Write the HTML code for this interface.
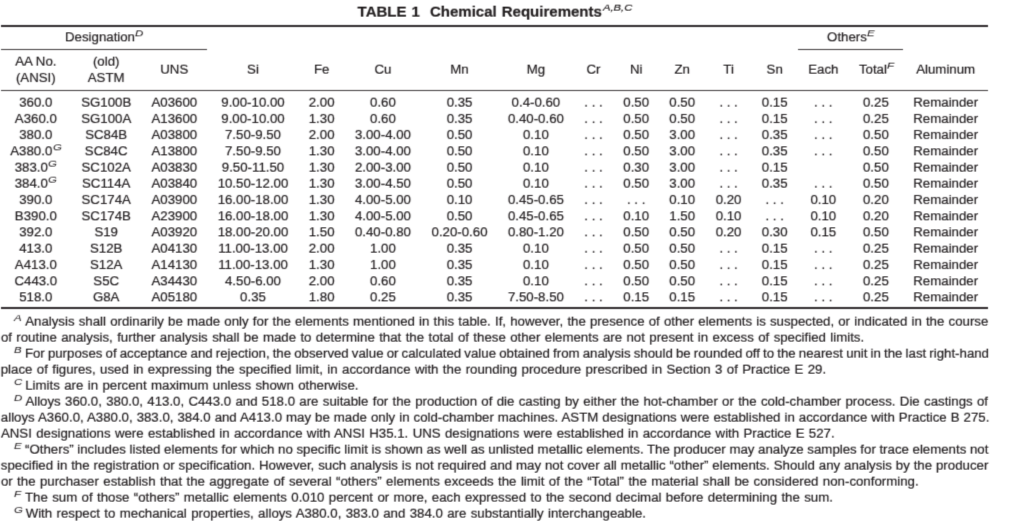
<!DOCTYPE html>
<html lang="en"><head><meta charset="utf-8"><title>TABLE 1 Chemical Requirements</title>
<style>
html,body{margin:0;padding:0;background:#fff}
body{width:1024px;height:527px;position:relative;overflow:hidden;font-family:"Liberation Sans",Arial,Helvetica,sans-serif;color:#242022;font-size:13.25px;line-height:16px}
.g{position:absolute;left:0;top:0;width:1024px;height:527px;-webkit-text-stroke:0.2px #242022}
#gn{filter:url(#fn)} #gu{filter:url(#fu)} #gd{filter:url(#fd)}
.c,.f,.t,.r,.fs{position:absolute;white-space:nowrap}
.c{text-align:center}
.s{font-size:9.4px;font-style:italic;position:relative;top:-5px;line-height:0;margin-left:0.4px;margin-right:1.4px;display:inline-block;transform:scaleX(1.22);transform-origin:0 50%;-webkit-text-stroke:0.05px #242022}
.t{font-weight:bold;font-size:15.0px;line-height:18px;color:#231f20}
.ts{font-weight:normal;font-style:italic;font-size:9.6px;position:relative;top:-6px;line-height:0;margin-left:1.2px;display:inline-block;transform:scaleX(1.17);transform-origin:0 50%;-webkit-text-stroke:0.2px #231f20}
.fs{font-size:9.4px;line-height:12px;font-style:italic;transform:scaleX(1.22);transform-origin:0 50%;-webkit-text-stroke:0.05px #242022}
</style></head>
<body>
<svg width="0" height="0" style="position:absolute"><filter id="fn" x="0" y="0" width="100%" height="100%" color-interpolation-filters="sRGB"><feConvolveMatrix order="3" kernelMatrix="0.0196 0.1008 0.0196 0.1008 0.5184 0.1008 0.0196 0.1008 0.0196" edgeMode="none" preserveAlpha="false"/></filter><filter id="fu" x="0" y="0" width="100%" height="100%" color-interpolation-filters="sRGB"><feConvolveMatrix order="3" kernelMatrix="0.0504 0.2592 0.0504 0.0896 0.4608 0.0896 0.0000 0.0000 0.0000" edgeMode="none" preserveAlpha="false"/></filter><filter id="fd" x="0" y="0" width="100%" height="100%" color-interpolation-filters="sRGB"><feConvolveMatrix order="3" kernelMatrix="0.0000 0.0000 0.0000 0.0896 0.4608 0.0896 0.0504 0.2592 0.0504" edgeMode="none" preserveAlpha="false"/></filter></svg>
<div class="g" id="gn">
<div class="r" style="left:1.00px;top:24.95px;width:987.40px;height:1.70px;background:#2e2a2c"></div>
<div class="r" style="left:1.00px;top:49.00px;width:206.30px;height:1.00px;background:#3e3a3c"></div>
<div class="r" style="left:797.50px;top:49.00px;width:105.50px;height:1.00px;background:#3e3a3c"></div>
<div class="r" style="left:1.00px;top:89.70px;width:987.40px;height:1.00px;background:#3e3a3c"></div>
<div class="r" style="left:1.00px;top:307.15px;width:987.40px;height:1.70px;background:#2e2a2c"></div>
<div class="c" style="left:-34.20px;top:70px;width:140px">(ANSI)</div>
<div class="c" style="left:36.20px;top:70px;width:140px">ASTM</div>
<div class="c" style="left:-34.20px;top:111px;width:140px">A360.0</div>
<div class="c" style="left:36.20px;top:111px;width:140px">SG100A</div>
<div class="c" style="left:104.30px;top:111px;width:140px">A13600</div>
<div class="c" style="left:183.00px;top:111px;width:140px">9.00-10.00</div>
<div class="c" style="left:251.65px;top:111px;width:140px">1.30</div>
<div class="c" style="left:312.95px;top:111px;width:140px">0.60</div>
<div class="c" style="left:389.55px;top:111px;width:140px">0.35</div>
<div class="c" style="left:465.90px;top:111px;width:140px">0.40-0.60</div>
<div class="c" style="left:523.50px;top:111px;width:140px">. . .</div>
<div class="c" style="left:566.20px;top:111px;width:140px">0.50</div>
<div class="c" style="left:612.20px;top:111px;width:140px">0.50</div>
<div class="c" style="left:658.60px;top:111px;width:140px">. . .</div>
<div class="c" style="left:704.70px;top:111px;width:140px">0.15</div>
<div class="c" style="left:753.30px;top:111px;width:140px">. . .</div>
<div class="c" style="left:805.90px;top:111px;width:140px">0.25</div>
<div class="c" style="left:875.70px;top:111px;width:140px">Remainder</div>
<div class="c" style="left:-34.20px;top:127px;width:140px">380.0</div>
<div class="c" style="left:36.20px;top:127px;width:140px">SC84B</div>
<div class="c" style="left:104.30px;top:127px;width:140px">A03800</div>
<div class="c" style="left:183.00px;top:127px;width:140px">7.50-9.50</div>
<div class="c" style="left:251.65px;top:127px;width:140px">2.00</div>
<div class="c" style="left:312.95px;top:127px;width:140px">3.00-4.00</div>
<div class="c" style="left:389.55px;top:127px;width:140px">0.50</div>
<div class="c" style="left:465.90px;top:127px;width:140px">0.10</div>
<div class="c" style="left:523.50px;top:127px;width:140px">. . .</div>
<div class="c" style="left:566.20px;top:127px;width:140px">0.50</div>
<div class="c" style="left:612.20px;top:127px;width:140px">3.00</div>
<div class="c" style="left:658.60px;top:127px;width:140px">. . .</div>
<div class="c" style="left:704.70px;top:127px;width:140px">0.35</div>
<div class="c" style="left:753.30px;top:127px;width:140px">. . .</div>
<div class="c" style="left:805.90px;top:127px;width:140px">0.50</div>
<div class="c" style="left:875.70px;top:127px;width:140px">Remainder</div>
<div class="c" style="left:-34.20px;top:192px;width:140px">390.0</div>
<div class="c" style="left:36.20px;top:192px;width:140px">SC174A</div>
<div class="c" style="left:104.30px;top:192px;width:140px">A03900</div>
<div class="c" style="left:183.00px;top:192px;width:140px">16.00-18.00</div>
<div class="c" style="left:251.65px;top:192px;width:140px">1.30</div>
<div class="c" style="left:312.95px;top:192px;width:140px">4.00-5.00</div>
<div class="c" style="left:389.55px;top:192px;width:140px">0.10</div>
<div class="c" style="left:465.90px;top:192px;width:140px">0.45-0.65</div>
<div class="c" style="left:523.50px;top:192px;width:140px">. . .</div>
<div class="c" style="left:566.20px;top:192px;width:140px">. . .</div>
<div class="c" style="left:612.20px;top:192px;width:140px">0.10</div>
<div class="c" style="left:658.60px;top:192px;width:140px">0.20</div>
<div class="c" style="left:704.70px;top:192px;width:140px">. . .</div>
<div class="c" style="left:753.30px;top:192px;width:140px">0.10</div>
<div class="c" style="left:805.90px;top:192px;width:140px">0.20</div>
<div class="c" style="left:875.70px;top:192px;width:140px">Remainder</div>
<div class="c" style="left:-34.20px;top:257px;width:140px">A413.0</div>
<div class="c" style="left:36.20px;top:257px;width:140px">S12A</div>
<div class="c" style="left:104.30px;top:257px;width:140px">A14130</div>
<div class="c" style="left:183.00px;top:257px;width:140px">11.00-13.00</div>
<div class="c" style="left:251.65px;top:257px;width:140px">1.30</div>
<div class="c" style="left:312.95px;top:257px;width:140px">1.00</div>
<div class="c" style="left:389.55px;top:257px;width:140px">0.35</div>
<div class="c" style="left:465.90px;top:257px;width:140px">0.10</div>
<div class="c" style="left:523.50px;top:257px;width:140px">. . .</div>
<div class="c" style="left:566.20px;top:257px;width:140px">0.50</div>
<div class="c" style="left:612.20px;top:257px;width:140px">0.50</div>
<div class="c" style="left:658.60px;top:257px;width:140px">. . .</div>
<div class="c" style="left:704.70px;top:257px;width:140px">0.15</div>
<div class="c" style="left:753.30px;top:257px;width:140px">. . .</div>
<div class="c" style="left:805.90px;top:257px;width:140px">0.25</div>
<div class="c" style="left:875.70px;top:257px;width:140px">Remainder</div>
<i class="fs" style="left:13.9px;top:312px">A</i>
<i class="fs" style="left:13.8px;top:344px">B</i>
<i class="fs" style="left:14.3px;top:376px">C</i>
<i class="fs" style="left:13.9px;top:392px">D</i>
<i class="fs" style="left:14.0px;top:440px">E</i>
<i class="fs" style="left:14.1px;top:488px">F</i>
<i class="fs" style="left:14.3px;top:504px">G</i>
</div>
<div class="g" id="gu">
<div class="t" style="left:357.6px;top:3px;word-spacing:0.9px">TABLE 1&nbsp; Chemical Requirements<i class="ts">A,B,C</i></div>
<div class="c" style="left:-34.20px;top:54px;width:140px">AA No.</div>
<div class="c" style="left:36.20px;top:54px;width:140px">(old)</div>
<div class="c" style="left:104.30px;top:62px;width:140px">UNS</div>
<div class="c" style="left:183.00px;top:62px;width:140px">Si</div>
<div class="c" style="left:251.65px;top:62px;width:140px">Fe</div>
<div class="c" style="left:312.95px;top:62px;width:140px">Cu</div>
<div class="c" style="left:389.55px;top:62px;width:140px">Mn</div>
<div class="c" style="left:465.90px;top:62px;width:140px">Mg</div>
<div class="c" style="left:523.50px;top:62px;width:140px">Cr</div>
<div class="c" style="left:566.20px;top:62px;width:140px">Ni</div>
<div class="c" style="left:612.20px;top:62px;width:140px">Zn</div>
<div class="c" style="left:658.60px;top:62px;width:140px">Ti</div>
<div class="c" style="left:704.70px;top:62px;width:140px">Sn</div>
<div class="c" style="left:753.30px;top:62px;width:140px">Each</div>
<div class="c" style="left:806.70px;top:62px;width:140px">Total<i class="s">F</i></div>
<div class="c" style="left:875.70px;top:62px;width:140px">Aluminum</div>
<div class="c" style="left:-34.20px;top:95px;width:140px">360.0</div>
<div class="c" style="left:36.20px;top:95px;width:140px">SG100B</div>
<div class="c" style="left:104.30px;top:95px;width:140px">A03600</div>
<div class="c" style="left:183.00px;top:95px;width:140px">9.00-10.00</div>
<div class="c" style="left:251.65px;top:95px;width:140px">2.00</div>
<div class="c" style="left:312.95px;top:95px;width:140px">0.60</div>
<div class="c" style="left:389.55px;top:95px;width:140px">0.35</div>
<div class="c" style="left:465.90px;top:95px;width:140px">0.4-0.60</div>
<div class="c" style="left:523.50px;top:95px;width:140px">. . .</div>
<div class="c" style="left:566.20px;top:95px;width:140px">0.50</div>
<div class="c" style="left:612.20px;top:95px;width:140px">0.50</div>
<div class="c" style="left:658.60px;top:95px;width:140px">. . .</div>
<div class="c" style="left:704.70px;top:95px;width:140px">0.15</div>
<div class="c" style="left:753.30px;top:95px;width:140px">. . .</div>
<div class="c" style="left:805.90px;top:95px;width:140px">0.25</div>
<div class="c" style="left:875.70px;top:95px;width:140px">Remainder</div>
<div class="c" style="left:-34.20px;top:160px;width:140px">383.0<i class="s">G</i></div>
<div class="c" style="left:36.20px;top:160px;width:140px">SC102A</div>
<div class="c" style="left:104.30px;top:160px;width:140px">A03830</div>
<div class="c" style="left:183.00px;top:160px;width:140px">9.50-11.50</div>
<div class="c" style="left:251.65px;top:160px;width:140px">1.30</div>
<div class="c" style="left:312.95px;top:160px;width:140px">2.00-3.00</div>
<div class="c" style="left:389.55px;top:160px;width:140px">0.50</div>
<div class="c" style="left:465.90px;top:160px;width:140px">0.10</div>
<div class="c" style="left:523.50px;top:160px;width:140px">. . .</div>
<div class="c" style="left:566.20px;top:160px;width:140px">0.30</div>
<div class="c" style="left:612.20px;top:160px;width:140px">3.00</div>
<div class="c" style="left:658.60px;top:160px;width:140px">. . .</div>
<div class="c" style="left:704.70px;top:160px;width:140px">0.15</div>
<div class="c" style="left:805.90px;top:160px;width:140px">0.50</div>
<div class="c" style="left:875.70px;top:160px;width:140px">Remainder</div>
<div class="c" style="left:-34.20px;top:176px;width:140px">384.0<i class="s">G</i></div>
<div class="c" style="left:36.20px;top:176px;width:140px">SC114A</div>
<div class="c" style="left:104.30px;top:176px;width:140px">A03840</div>
<div class="c" style="left:183.00px;top:176px;width:140px">10.50-12.00</div>
<div class="c" style="left:251.65px;top:176px;width:140px">1.30</div>
<div class="c" style="left:312.95px;top:176px;width:140px">3.00-4.50</div>
<div class="c" style="left:389.55px;top:176px;width:140px">0.50</div>
<div class="c" style="left:465.90px;top:176px;width:140px">0.10</div>
<div class="c" style="left:523.50px;top:176px;width:140px">. . .</div>
<div class="c" style="left:566.20px;top:176px;width:140px">0.50</div>
<div class="c" style="left:612.20px;top:176px;width:140px">3.00</div>
<div class="c" style="left:658.60px;top:176px;width:140px">. . .</div>
<div class="c" style="left:704.70px;top:176px;width:140px">0.35</div>
<div class="c" style="left:753.30px;top:176px;width:140px">. . .</div>
<div class="c" style="left:805.90px;top:176px;width:140px">0.50</div>
<div class="c" style="left:875.70px;top:176px;width:140px">Remainder</div>
<div class="c" style="left:-34.20px;top:241px;width:140px">413.0</div>
<div class="c" style="left:36.20px;top:241px;width:140px">S12B</div>
<div class="c" style="left:104.30px;top:241px;width:140px">A04130</div>
<div class="c" style="left:183.00px;top:241px;width:140px">11.00-13.00</div>
<div class="c" style="left:251.65px;top:241px;width:140px">2.00</div>
<div class="c" style="left:312.95px;top:241px;width:140px">1.00</div>
<div class="c" style="left:389.55px;top:241px;width:140px">0.35</div>
<div class="c" style="left:465.90px;top:241px;width:140px">0.10</div>
<div class="c" style="left:523.50px;top:241px;width:140px">. . .</div>
<div class="c" style="left:566.20px;top:241px;width:140px">0.50</div>
<div class="c" style="left:612.20px;top:241px;width:140px">0.50</div>
<div class="c" style="left:658.60px;top:241px;width:140px">. . .</div>
<div class="c" style="left:704.70px;top:241px;width:140px">0.15</div>
<div class="c" style="left:753.30px;top:241px;width:140px">. . .</div>
<div class="c" style="left:805.90px;top:241px;width:140px">0.25</div>
<div class="c" style="left:875.70px;top:241px;width:140px">Remainder</div>
<div class="f" id="f0" style="left:25.23px;top:314px;word-spacing:0.499px">Analysis shall ordinarily be made only for the elements mentioned in this table. If, however, the presence of other elements is suspected, or indicated in the course</div>
<div class="f" id="f1" style="left:0.90px;top:330px;word-spacing:0.710px">of routine analysis, further analysis shall be made to determine that the total of these other elements are not present in excess of specified limits.</div>
<div class="f" id="f2" style="left:24.90px;top:346px;word-spacing:-0.560px">For purposes of acceptance and rejection, the observed value or calculated value obtained from analysis should be rounded off to the nearest unit in the last right-hand</div>
<div class="f" id="f3" style="left:0.74px;top:362px;word-spacing:0.692px">place of figures, used in expressing the specified limit, in accordance with the rounding procedure prescribed in Section 3 of Practice E 29.</div>
<div class="f" id="f4" style="left:25.25px;top:378px;word-spacing:0.691px">Limits are in percent maximum unless shown otherwise.</div>
<div class="f" id="f5" style="left:25.38px;top:394px;word-spacing:0.616px">Alloys 360.0, 380.0, 413.0, C443.0 and 518.0 are suitable for the production of die casting by either the hot-chamber or the cold-chamber process. Die castings of</div>
<div class="f" id="f6" style="left:0.86px;top:410px;word-spacing:0.321px">alloys A360.0, A380.0, 383.0, 384.0 and A413.0 may be made only in cold-chamber machines. ASTM designations were established in accordance with Practice B 275.</div>
<div class="f" id="f7" style="left:0.95px;top:426px;word-spacing:0.652px">ANSI designations were established in accordance with ANSI H35.1. UNS designations were established in accordance with Practice E 527.</div>
<div class="f" id="f8" style="left:25.09px;top:442px;word-spacing:-0.049px">“Others” includes listed elements for which no specific limit is shown as well as unlisted metallic elements. The producer may analyze samples for trace elements not</div>
<div class="f" id="f9" style="left:0.81px;top:458px;word-spacing:0.201px">specified in the registration or specification. However, such analysis is not required and may not cover all metallic “other” elements. Should any analysis by the producer</div>
<div class="f" id="f10" style="left:0.90px;top:474px;word-spacing:0.738px">or the purchaser establish that the aggregate of several “others” elements exceeds the limit of the “Total” the material shall be considered non-conforming.</div>
<div class="f" id="f11" style="left:24.94px;top:490px;word-spacing:0.703px">The sum of those “others” metallic elements 0.010 percent or more, each expressed to the second decimal before determining the sum.</div>
<div class="f" id="f12" style="left:25.67px;top:506px;word-spacing:0.687px">With respect to mechanical properties, alloys A380.0, 383.0 and 384.0 are substantially interchangeable.</div>
</div>
<div class="g" id="gd">
<div class="c" style="left:34.30px;top:29px;width:140px">Designation<i class="s">D</i></div>
<div class="c" style="left:781.00px;top:29px;width:140px">Others<i class="s">E</i></div>
<div class="c" style="left:-34.20px;top:143px;width:140px">A380.0<i class="s">G</i></div>
<div class="c" style="left:36.20px;top:143px;width:140px">SC84C</div>
<div class="c" style="left:104.30px;top:143px;width:140px">A13800</div>
<div class="c" style="left:183.00px;top:143px;width:140px">7.50-9.50</div>
<div class="c" style="left:251.65px;top:143px;width:140px">1.30</div>
<div class="c" style="left:312.95px;top:143px;width:140px">3.00-4.00</div>
<div class="c" style="left:389.55px;top:143px;width:140px">0.50</div>
<div class="c" style="left:465.90px;top:143px;width:140px">0.10</div>
<div class="c" style="left:523.50px;top:143px;width:140px">. . .</div>
<div class="c" style="left:566.20px;top:143px;width:140px">0.50</div>
<div class="c" style="left:612.20px;top:143px;width:140px">3.00</div>
<div class="c" style="left:658.60px;top:143px;width:140px">. . .</div>
<div class="c" style="left:704.70px;top:143px;width:140px">0.35</div>
<div class="c" style="left:753.30px;top:143px;width:140px">. . .</div>
<div class="c" style="left:805.90px;top:143px;width:140px">0.50</div>
<div class="c" style="left:875.70px;top:143px;width:140px">Remainder</div>
<div class="c" style="left:-34.20px;top:208px;width:140px">B390.0</div>
<div class="c" style="left:36.20px;top:208px;width:140px">SC174B</div>
<div class="c" style="left:104.30px;top:208px;width:140px">A23900</div>
<div class="c" style="left:183.00px;top:208px;width:140px">16.00-18.00</div>
<div class="c" style="left:251.65px;top:208px;width:140px">1.30</div>
<div class="c" style="left:312.95px;top:208px;width:140px">4.00-5.00</div>
<div class="c" style="left:389.55px;top:208px;width:140px">0.50</div>
<div class="c" style="left:465.90px;top:208px;width:140px">0.45-0.65</div>
<div class="c" style="left:523.50px;top:208px;width:140px">. . .</div>
<div class="c" style="left:566.20px;top:208px;width:140px">0.10</div>
<div class="c" style="left:612.20px;top:208px;width:140px">1.50</div>
<div class="c" style="left:658.60px;top:208px;width:140px">0.10</div>
<div class="c" style="left:704.70px;top:208px;width:140px">. . .</div>
<div class="c" style="left:753.30px;top:208px;width:140px">0.10</div>
<div class="c" style="left:805.90px;top:208px;width:140px">0.20</div>
<div class="c" style="left:875.70px;top:208px;width:140px">Remainder</div>
<div class="c" style="left:-34.20px;top:224px;width:140px">392.0</div>
<div class="c" style="left:36.20px;top:224px;width:140px">S19</div>
<div class="c" style="left:104.30px;top:224px;width:140px">A03920</div>
<div class="c" style="left:183.00px;top:224px;width:140px">18.00-20.00</div>
<div class="c" style="left:251.65px;top:224px;width:140px">1.50</div>
<div class="c" style="left:312.95px;top:224px;width:140px">0.40-0.80</div>
<div class="c" style="left:389.55px;top:224px;width:140px">0.20-0.60</div>
<div class="c" style="left:465.90px;top:224px;width:140px">0.80-1.20</div>
<div class="c" style="left:523.50px;top:224px;width:140px">. . .</div>
<div class="c" style="left:566.20px;top:224px;width:140px">0.50</div>
<div class="c" style="left:612.20px;top:224px;width:140px">0.50</div>
<div class="c" style="left:658.60px;top:224px;width:140px">0.20</div>
<div class="c" style="left:704.70px;top:224px;width:140px">0.30</div>
<div class="c" style="left:753.30px;top:224px;width:140px">0.15</div>
<div class="c" style="left:805.90px;top:224px;width:140px">0.50</div>
<div class="c" style="left:875.70px;top:224px;width:140px">Remainder</div>
<div class="c" style="left:-34.20px;top:273px;width:140px">C443.0</div>
<div class="c" style="left:36.20px;top:273px;width:140px">S5C</div>
<div class="c" style="left:104.30px;top:273px;width:140px">A34430</div>
<div class="c" style="left:183.00px;top:273px;width:140px">4.50-6.00</div>
<div class="c" style="left:251.65px;top:273px;width:140px">2.00</div>
<div class="c" style="left:312.95px;top:273px;width:140px">0.60</div>
<div class="c" style="left:389.55px;top:273px;width:140px">0.35</div>
<div class="c" style="left:465.90px;top:273px;width:140px">0.10</div>
<div class="c" style="left:523.50px;top:273px;width:140px">. . .</div>
<div class="c" style="left:566.20px;top:273px;width:140px">0.50</div>
<div class="c" style="left:612.20px;top:273px;width:140px">0.50</div>
<div class="c" style="left:658.60px;top:273px;width:140px">. . .</div>
<div class="c" style="left:704.70px;top:273px;width:140px">0.15</div>
<div class="c" style="left:753.30px;top:273px;width:140px">. . .</div>
<div class="c" style="left:805.90px;top:273px;width:140px">0.25</div>
<div class="c" style="left:875.70px;top:273px;width:140px">Remainder</div>
<div class="c" style="left:-34.20px;top:289px;width:140px">518.0</div>
<div class="c" style="left:36.20px;top:289px;width:140px">G8A</div>
<div class="c" style="left:104.30px;top:289px;width:140px">A05180</div>
<div class="c" style="left:183.00px;top:289px;width:140px">0.35</div>
<div class="c" style="left:251.65px;top:289px;width:140px">1.80</div>
<div class="c" style="left:312.95px;top:289px;width:140px">0.25</div>
<div class="c" style="left:389.55px;top:289px;width:140px">0.35</div>
<div class="c" style="left:465.90px;top:289px;width:140px">7.50-8.50</div>
<div class="c" style="left:523.50px;top:289px;width:140px">. . .</div>
<div class="c" style="left:566.20px;top:289px;width:140px">0.15</div>
<div class="c" style="left:612.20px;top:289px;width:140px">0.15</div>
<div class="c" style="left:658.60px;top:289px;width:140px">. . .</div>
<div class="c" style="left:704.70px;top:289px;width:140px">0.15</div>
<div class="c" style="left:753.30px;top:289px;width:140px">. . .</div>
<div class="c" style="left:805.90px;top:289px;width:140px">0.25</div>
<div class="c" style="left:875.70px;top:289px;width:140px">Remainder</div>
</div>
</body></html>
